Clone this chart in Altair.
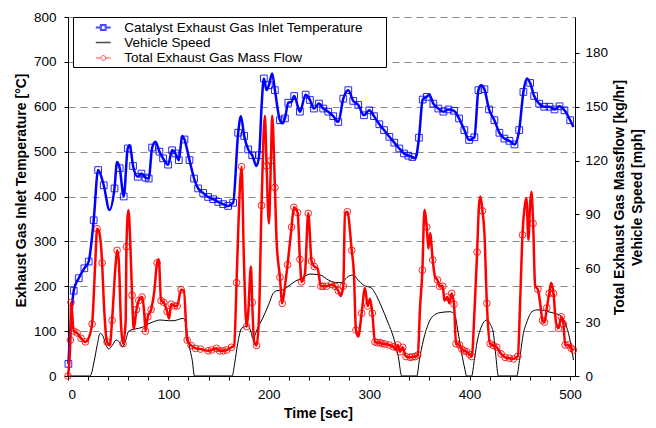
import altair as alt
import pandas as pd

# ---------------- data ----------------
temp_t = [0.4, 5.7, 10.7, 16.3, 20.6, 25.6, 30, 35.6, 41.3, 46.3, 48.9, 51.5, 55.5, 59.5, 61.5, 64.8,
          69.5, 73.2, 77.2, 80.4, 83.8, 87.1, 91.1, 94.7, 99.7, 103.7, 107, 110.4, 113.7, 116, 121,
          125.6, 129.6, 134.6, 139.6, 144.6, 149.6, 154.5, 159.5, 164.5, 169.5, 172.2, 175.5, 179.5,
          183.5, 187.8, 190.4, 192.8, 195.1, 197.8, 200.1, 203.4, 206.1, 211.1, 213.8, 216.1, 219.4,
          222.7, 225.3, 231, 236.7, 241, 245, 250, 254.2, 259.2, 264.2, 269.2, 274.2, 279.2, 284.1,
          289.1, 294.8, 300.1, 304.8, 310.1, 314.8, 320.1, 325, 330, 334.7, 339, 343, 346, 349.6,
          353.3, 357.3, 359.9, 363.9, 368.9, 373.9, 378.9, 384.5, 389.5, 394.8, 399.5, 404.8, 408.8,
          411.5, 414.8, 419.4, 424.7, 429.7, 434.7, 439.7, 444.7, 449.4, 453.6, 457, 460.3, 464.3,
          469.3, 474.3, 479.6, 484.6, 489.6, 494.5, 500.2, 503.5]
temp_v = [27, 190, 218, 240, 255, 347, 459, 425, 370, 418, 477, 463, 400, 507, 514, 468,
          444, 451, 442, 440, 509, 522, 500, 485, 471, 503, 496, 481, 535, 527, 481,
          440, 418, 408, 399, 394, 388, 383, 379, 386, 542, 579, 535, 505,
          492, 468, 492, 600, 663, 637, 648, 674, 637, 570, 563, 574, 609,
          611, 624, 589, 627, 615, 596, 607, 596, 589, 579, 566, 618, 637, 613,
          604, 581, 592, 579, 561, 548, 533, 520, 507, 496, 491, 488, 485, 531,
          616, 622, 627, 607, 596, 589, 594, 591, 574, 548, 526, 532, 637,
          648, 639, 594, 570, 542, 529, 524, 516, 548, 633, 663, 653, 624,
          607, 600, 600, 594, 601, 592, 570, 555]
# times at which the logged samples (square markers) are shown
temp_sample_t = [0.4, 5.7, 10.7, 16.3, 20.6, 25.6, 30, 35.6, 46.3, 51.5, 55.5, 59.5, 64.8,
                 69.5, 73.2, 77.2, 80.4, 83.8, 91.1, 94.7, 99.7, 103.7, 107, 110.4, 116, 121,
                 125.6, 129.6, 134.6, 139.6, 144.6, 149.6, 154.5, 159.5, 164.5, 169.5, 175.5, 179.5,
                 183.5, 190.4, 195.1, 200.1, 206.1, 211.1, 216.1, 219.4, 225.3, 231, 236.7, 241,
                 245, 250, 254.2, 259.2, 264.2, 269.2, 274.2, 279.2, 284.1, 289.1, 294.8, 300.1,
                 304.8, 310.1, 314.8, 320.1, 325, 330, 334.7, 339, 343, 349.6, 353.3, 357.3, 363.9,
                 368.9, 373.9, 378.9, 384.5, 389.5, 394.8, 399.5, 404.8, 408.8, 414.8, 419.4, 424.7,
                 429.7, 434.7, 439.7, 444.7, 449.4, 453.6, 460.3, 464.3, 469.3, 474.3, 479.6, 484.6,
                 489.6, 494.5, 500.2]

speed_t = [0, 22, 26, 29, 32, 35, 38, 40.6, 44, 48, 51, 54.8, 57, 60.5, 65, 70, 75.5, 80, 85.5, 92,
           100, 105.4, 110, 114.7, 117, 118.7, 121, 123.7, 126, 163.5, 166, 169, 172.9, 179.5, 182,
           184.5, 187, 189.5, 192, 196.1, 200, 204.4, 208, 213.4, 221.1, 227, 232.7, 241, 251, 259.3,
           266, 272.6, 278, 284.1, 289, 294.1, 302.5, 306, 310.8, 315, 319, 324, 329, 332.4, 347.4,
           350, 354, 357, 360.6, 365, 370.6, 380.6, 385.5, 387.5, 389.9, 393, 395.5, 397, 402, 405,
           407.5, 410.5, 413.5, 417.2, 420.5, 423.7, 426, 428.7, 447, 450, 453.6, 457, 462, 467, 472,
           477, 482, 487, 492, 495.5, 498.5, 501, 503.5]
speed_v = [0, 0, 8, 17, 23.8, 22, 17, 15, 17, 20, 19, 16.3, 19, 25, 26, 26.5, 27.5, 29, 30.3, 31.2,
           30.8, 30.8, 31.5, 32.1, 30, 23.8, 16, 9, 0, 0, 7, 18, 26.6, 27.9, 25,
           20.4, 24, 27.5, 30, 34.9, 40, 46.1, 47.5, 47.9, 50.7, 53, 54.4, 56.8, 56.3, 53.5,
           52, 52, 55, 56.3, 53.5, 50.7, 48.9, 46, 40.5, 35, 29.4, 21.9, 10.8, 0, 0,
           9, 20, 26, 31.2, 34, 35.3, 35.8, 34, 28, 20, 10, 3.3, 0, 0, 10,
           19, 25.6, 29.5, 31.2, 29, 23.8, 12, 0, 0, 10, 23.8, 30, 35.8, 36.8, 36.8,
           36, 35.3, 34.5, 33, 29, 23.8, 17, 8.9]

flow_t = [0, 2.4, 3, 5.7, 9, 13, 17.3, 19.6, 24, 27.3, 29, 30.6, 34, 35.6, 38.9, 41.6, 43.9, 47.3,
          48.9, 50.5, 52.9, 54.8, 57.5, 58.2, 60.2, 62.2, 63.8, 65.5, 68.2, 70.5, 73.8, 76.2, 77.2,
          79.5, 82.8, 86.1, 88.7, 90.4, 92.7, 95.4, 98.7, 100.7, 102.7, 106.1, 108.7, 112.7, 115.4,
          118.7, 122.6, 127, 132, 139.6, 143, 147.9, 151, 154.5, 158, 162.9, 165.5, 167.9, 169.5,
          172.9, 175.2, 177.9, 179.5, 182.2, 183.5, 185.4, 187.8, 190.1, 192.8, 196.1, 197.8, 200.1,
          202.1, 203.4, 206.1, 207.8, 211.1, 213.4, 216.1, 218.7, 222.7, 225, 228.7, 231, 232.7, 236,
          239.3, 242.6, 245.3, 248.6, 251.9, 254, 257.6, 262.6, 266, 269.2, 271.6, 274.2, 275.9,
          278.2, 282.6, 284.8, 286.8, 289.1, 292.5, 295.8, 298.5, 300.8, 303.1, 305.8, 308, 310.8,
          313, 315.8, 320, 324, 326.7, 328.4, 330.7, 333.4, 336.7, 340.7, 343, 345.7, 348.4, 350.7,
          353, 355, 357.3, 359, 360.7, 363.3, 365.7, 368, 370, 373.3, 374.9, 377.9, 379.9, 382.2,
          384.5, 386.5, 389.9, 392.2, 394.5, 397.2, 400, 402.2, 404.8, 407.5, 409.5, 410.8, 412.8,
          414.8, 417.2, 420.4, 423.7, 427.1, 431.4, 435.4, 439.7, 443.7, 448.1, 450.4, 452.7, 455.3,
          456.6, 458.6, 460.3, 461.6, 463.3, 465.3, 468, 470.3, 472.6, 474.6, 477, 479.3, 481.3,
          483.6, 486, 488.6, 491.3, 493.5, 495.2, 498.5, 501.2, 503.5]
flow_v = [0, 20, 41, 25, 24, 21, 19, 20, 29, 65, 82, 81, 63, 42, 19, 17, 31, 61,
          70, 65, 28, 18, 31, 72, 92.5, 72, 45, 26, 37, 42, 44, 33, 25,
          33, 37, 48, 63, 65, 42, 41, 36, 32, 40, 39, 39, 48, 47.5,
          20, 17, 15.4, 15, 14, 14.5, 15.4, 14, 14, 14.5, 16, 17, 52, 80,
          116.6, 65, 27.5, 35, 61, 41, 19, 17, 31, 95, 145, 117, 85,
          120, 145, 105, 75, 55, 40.5, 50, 62, 83, 94, 91, 65, 52.5, 57,
          90.6, 64, 61, 60, 50, 50, 50, 51, 50, 47.5, 44.6, 50, 90.6,
          91.5, 70, 57, 25.6, 22, 35, 49, 39, 43, 35, 19, 18.5, 18.6,
          18, 17.8, 17.3, 16.3, 14.5, 17.3, 13.5, 16, 10.8, 10.4, 10.6, 10.8, 11.7, 38.6,
          59, 92.5, 83, 71, 79.5, 64.6, 55, 53.5, 50, 50, 42, 44, 40.5, 46,
          40, 18, 17.3, 15, 14, 13.5, 12, 10.8, 35, 69, 96, 100, 92,
          79.5, 40.5, 18, 17, 16, 12.3, 10.4, 9.9, 9.5, 11, 42, 78.6, 96,
          99, 76, 96, 102.7, 85, 50, 48.3, 40.5, 31, 30, 38, 46, 52,
          46, 30, 26.6, 33, 29, 17.3, 17.3, 15.4, 14.5]
# times at which the logged samples (circle markers) are shown
flow_sample_t = [0, 2.4, 3, 5.7, 9, 13, 17.3, 24, 29, 34, 38.9, 43.9, 48.9, 54.8, 58.2, 63.8, 68.2,
                 70.5, 73.8, 77.2, 79.5, 82.8, 88.7, 92.7, 95.4, 98.7, 102.7, 106.1, 108.7, 112.7,
                 118.7, 122.6, 127, 132, 139.6, 143, 147.9, 151, 154.5, 158, 162.9, 167.9, 172.9,
                 177.9, 183.5, 187.8, 192.8, 197.8, 202.1, 206.1, 211.1, 213.4, 218.7, 222.7, 225,
                 228.7, 231, 232.7, 239.3, 242.6, 245.3, 251.9, 254, 257.6, 262.6, 266, 269.2, 274.2,
                 278.2, 282.6, 286.8, 292.5, 298.5, 303.1, 305.8, 308, 310.8, 313, 315.8, 320, 324,
                 328.4, 330.7, 333.4, 336.7, 340.7, 343, 345.7, 348.4, 353, 357.3, 363.3, 368, 370,
                 373.3, 377.9, 382.2, 384.5, 386.5, 389.9, 392.2, 394.5, 397.2, 400, 402.2, 407.5,
                 412.8, 417.2, 420.4, 423.7, 427.1, 431.4, 435.4, 439.7, 443.7, 448.1, 452.7, 463.3,
                 468, 472.6, 474.6, 477, 479.3, 483.6, 488.6, 491.3, 493.5, 495.2, 498.5, 501.2, 503.5]

series_names = ["Catalyst Exhaust Gas Inlet Temperature", "Vehicle Speed", "Total Exhaust Gas Mass Flow"]
left_ticks = [0, 100, 200, 300, 400, 500, 600, 700, 800]
right_ticks = [0, 30, 60, 90, 120, 150, 180]
x_ticks = list(range(0, 501, 20))

# ---------------- tables ----------------
temp_df = pd.DataFrame({"t": temp_t, "v": temp_v})
temp_pts = temp_df[temp_df["t"].isin(temp_sample_t)]
speed_df = pd.DataFrame({"t": speed_t, "v": speed_v})
flow_df = pd.DataFrame({"t": flow_t, "v": flow_v})
flow_pts = flow_df[flow_df["t"].isin(flow_sample_t)]
legend_df = pd.DataFrame({"series": series_names, "t": [-100] * 3, "v": [-100] * 3})

FONT = "Liberation Sans"
BLUE = "#0000ff"
RED = "#ff0000"

x_enc = alt.X(
    "t:Q",
    scale=alt.Scale(domain=[0, 505], nice=False, zero=False),
    axis=alt.Axis(
        values=x_ticks,
        labelExpr="datum.value % 100 === 0 ? datum.label : ''",
        title="Time [sec]",
        titleX=250, titleY=37, titleBaseline="middle",
        tickSize=4, labelPadding=7, grid=False,
    ),
)

y_left = alt.Y(
    "v:Q",
    scale=alt.Scale(domain=[0, 800], nice=False),
    axis=alt.Axis(
        values=left_ticks, orient="left",
        title="Exhaust Gas Inlet Temperature [°C]",
        titleX=-47, titleY=173, titleBaseline="middle",
        grid=True, gridDash=[7, 5], gridColor="#8a8a8a", gridWidth=1,
        tickSize=4, labelPadding=8,
    ),
)

y_right = alt.Y(
    "v:Q",
    scale=alt.Scale(domain=[0, 200], nice=False),
    axis=alt.Axis(
        values=right_ticks, orient="right",
        title=["Total Exhaust Gas Massflow [kg/hr]", "Vehicle Speed [mph]"],
        titleAngle=270, titleX=37, titleY=180, titleBaseline="top", titleLineHeight=18,
        grid=False, tickSize=4, labelPadding=6,
    ),
)

temp_line = alt.Chart(temp_df).mark_line(color=BLUE, strokeWidth=2.5, interpolate="monotone").encode(x=x_enc, y=y_left)
temp_mark = alt.Chart(temp_pts).mark_point(shape="square", filled=False, color=BLUE, size=45, strokeWidth=1, opacity=0.85).encode(x=x_enc, y=y_left)
left = alt.layer(temp_line, temp_mark)

speed_line = alt.Chart(speed_df).mark_line(color="black", strokeWidth=1, interpolate="monotone").encode(x=x_enc, y=y_right)
flow_line = alt.Chart(flow_df).mark_line(color=RED, strokeWidth=2.5, interpolate="monotone").encode(x=x_enc, y=y_right)
flow_mark = alt.Chart(flow_pts).mark_point(shape="circle", filled=False, color=RED, size=45, strokeWidth=1, opacity=0.85).encode(x=x_enc, y=y_right)

sq_path = "M-1.03,0L-0.33,0M0.33,0L1.03,0M-0.33,-0.33L0.33,-0.33L0.33,0.33L-0.33,0.33Z"
ln_path = "M-1.03,0L1.03,0"
ci_path = "M-1.03,0L-0.33,0M0.33,0L1.03,0M-0.33,0A0.33,0.33,0,1,1,0.33,0A0.33,0.33,0,1,1,-0.33,0Z"

leg = alt.Legend(
    title="M", titleOrient="right", titleOpacity=0, titlePadding=9,
    titleFont=FONT, titleFontSize=13.5, titleFontWeight="normal",
    orient="none", legendX=5, legendY=0,
    padding=2, rowPadding=0.5, symbolSize=210, symbolOffset=19.75, labelOffset=12.5,
    symbolStrokeWidth=2, symbolFillColor="transparent",
    labelFont=FONT, labelFontSize=13.5, labelColor="black", labelLimit=500,
    strokeColor="black", fillColor="white",
)

legend_layer = alt.Chart(legend_df).mark_point(filled=False, clip=True, size=210, strokeWidth=2).encode(
    x=x_enc, y=y_right,
    shape=alt.Shape("series:N", scale=alt.Scale(domain=series_names, range=[sq_path, ln_path, ci_path]), legend=leg),
    color=alt.Color("series:N", scale=alt.Scale(domain=series_names, range=[BLUE, "black", RED]), legend=leg),
    strokeWidth=alt.StrokeWidth("series:N", scale=alt.Scale(domain=series_names, range=[2, 1, 2]), legend=leg),
)

right = alt.layer(speed_line, flow_line, flow_mark, legend_layer)

chart = alt.layer(left, right).resolve_scale(y="independent").properties(
    width=507, height=359,
    autosize=alt.AutoSizeParams(type="none"),
    padding={"left": 68, "top": 17, "right": 81, "bottom": 52},
).configure_view(strokeWidth=0).configure_axis(
    labelFont=FONT, labelFontSize=13.5, labelColor="black",
    titleFont=FONT, titleFontSize=14, titleFontWeight="bold", titleColor="black",
    domainColor="black", domainWidth=1, tickColor="black", tickWidth=1,
)

chart.save("out.html", embed_options={"renderer": "svg", "actions": False})
